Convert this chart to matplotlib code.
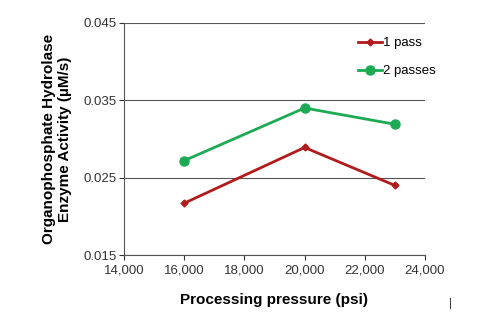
import matplotlib
matplotlib.use("Agg")
import matplotlib.pyplot as plt
from matplotlib.lines import Line2D
from matplotlib.ticker import FuncFormatter

plt.rcParams['font.family'] = ['Liberation Sans', 'DejaVu Sans']

pressure = [16000, 20000, 23000]
one_pass = [0.0217, 0.0289, 0.0240]
two_passes = [0.0272, 0.0340, 0.0319]

red = '#b01c1c'
green = '#1daa55'

fig = plt.figure(figsize=(5, 3.27), dpi=100)
ax = fig.add_axes([0.248, 0.220, 0.602, 0.710])

ax.plot(pressure, one_pass, color=red, lw=2, marker='D', ms=3.5, label='1 pass')
ax.plot(pressure, two_passes, color=green, lw=2, marker='o', ms=6.5, label='2 passes')

ax.set_xlim(14000, 24000)
ax.set_ylim(0.015, 0.045)
ax.set_xticks(range(14000, 24001, 2000))
ax.set_yticks([0.015, 0.025, 0.035, 0.045])
ax.xaxis.set_major_formatter(FuncFormatter(lambda v, p: f'{int(v):,}'))
ax.yaxis.set_major_formatter(FuncFormatter(lambda v, p: f'{v:.3f}'))
ax.tick_params(labelsize=9.5, colors='#333333', length=3.5, width=0.8, pad=2)
ax.tick_params(axis='x', pad=3)

ax.grid(axis='y', color='#555555', lw=0.8)
ax.set_axisbelow(True)
for s in ['top', 'right']:
    ax.spines[s].set_visible(False)
for s in ['left', 'bottom']:
    ax.spines[s].set_color('#555555')
    ax.spines[s].set_linewidth(0.8)

ax.set_xlabel('Processing pressure (psi)', fontsize=11, fontweight='bold', labelpad=12)
ax.set_ylabel('Organophosphate Hydrolase\nEnzyme Activity (µM/s)', fontsize=11,
              fontweight='bold', labelpad=8)

leg = ax.legend(loc='upper right', bbox_to_anchor=(1.075, 0.99), frameon=False,
                fontsize=9.5, handlelength=1.8, handletextpad=0.1, labelspacing=1.2)

# small stray tick at lower right
fig.add_artist(Line2D([0.9, 0.9], [0.058, 0.09], color='#444444', lw=0.8))

fig.savefig('out.png', dpi=100)
